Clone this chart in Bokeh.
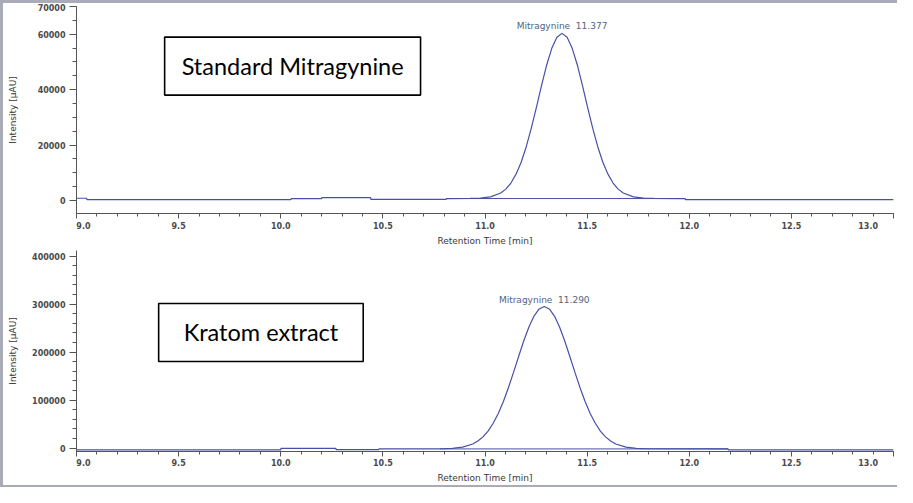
from bokeh.plotting import figure
from bokeh.models import FixedTicker, PrintfTickFormatter, Label, Range1d
from bokeh.layouts import column
from bokeh.embed import file_html
from bokeh.resources import INLINE

# ---------------- data ----------------
std_time = [9.00, 9.05, 9.051, 10.05, 10.051, 10.20, 10.201, 10.44, 10.441, 10.81, 10.811,
            10.927, 10.977, 11.027, 11.077, 11.102, 11.127, 11.152, 11.177, 11.202, 11.227,
            11.252, 11.277, 11.302, 11.327, 11.352, 11.377, 11.402, 11.427, 11.452, 11.477,
            11.502, 11.527, 11.552, 11.577, 11.602, 11.627, 11.652, 11.677, 11.727, 11.777,
            11.827, 11.98, 11.981, 13.00]
std_intensity = [800, 800, 300, 300, 700, 700, 1000, 1000, 400, 400, 700,
                 730, 840, 1300, 2700, 4100, 6300, 9500, 13800, 19400, 26200,
                 33700, 41500, 48900, 54900, 58900, 60300, 58900, 54900, 48900, 41500,
                 33700, 26200, 19400, 13800, 9500, 6300, 4100, 2700, 1300, 840,
                 730, 700, 300, 300]
std_baseline_time = [10.81, 11.98]
std_baseline_intensity = [700, 700]

kra_time = [9.00, 10.00, 10.001, 10.27, 10.271, 10.48, 10.481, 10.78, 10.79, 10.84, 10.89,
            10.94, 10.965, 10.99, 11.015, 11.04, 11.065, 11.09, 11.115, 11.14, 11.165,
            11.19, 11.215, 11.24, 11.265, 11.29, 11.315, 11.34, 11.365, 11.39, 11.415,
            11.44, 11.465, 11.49, 11.515, 11.54, 11.565, 11.59, 11.615, 11.64, 11.69,
            11.74, 11.79, 12.19, 12.191, 13.00]
kra_intensity = [-3500, -3500, -500, -500, -3000, -3000, -1500, -1500, -1200, -400, 2200,
                 8800, 14800, 23600, 35700, 51900, 72400, 97400, 126500, 158400, 191600,
                 223800, 252600, 275300, 290000, 295000, 290000, 275300, 252600, 223800, 191600,
                 158400, 126500, 97400, 72400, 51900, 35700, 23600, 14800, 8800, 2200,
                 -400, -1200, -1500, -3500, -3500]
kra_baseline_time = [10.78, 12.19]
kra_baseline_intensity = [-1500, -1500]

x_ticks = [9.0, 9.5, 10.0, 10.5, 11.0, 11.5, 12.0, 12.5, 13.0]
x_minor_ticks = [round(9.0 + 0.1 * i, 1) for i in range(41)]
std_y_ticks = [0, 20000, 40000, 60000, 70000]
std_y_minor = [5000 * i for i in range(15)]
kra_y_ticks = [0, 100000, 200000, 300000, 400000]
kra_y_minor = [20000 * i for i in range(21)]

peak_name = "Mitragynine"
std_rt = 11.377
kra_rt = 11.290
std_sample = "Standard Mitragynine"
kra_sample = "Kratom extract"
x_title = "Retention Time [min]"
y_title = "Intensity [µAU]"

# ---------------- styling ----------------
TRACE = "#4650a8"
AXIS = "#555555"
TICK_TXT = "#4a4a4a"
PEAK_TXT = "#53637e"
FONT = "DejaVu Sans"
NB = "\u00a0"


def panel(time, inten, bt, bi, yticks, yminor, ystart, yend, rt, sample, box_xy, box_pad,
          height, mb_top, mb_bottom, ylab_standoff, xlab_standoff):
    p = figure(width=894, height=height, output_backend="svg", toolbar_location=None,
               x_range=Range1d(9.0, 13.0), y_range=Range1d(ystart, yend),
               min_border_left=73, min_border_right=4, min_border_top=mb_top,
               min_border_bottom=mb_bottom)
    p.outline_line_color = None
    p.grid.visible = False
    p.background_fill_color = "white"
    p.border_fill_color = "white"

    p.line(time, inten, line_color=TRACE, line_width=1.2)
    p.line(bt, bi, line_color=TRACE, line_width=1.0)

    xa = p.xaxis[0]
    xa.ticker = FixedTicker(ticks=x_ticks, minor_ticks=x_minor_ticks)
    xa.formatter = PrintfTickFormatter(format="%.1f")
    # end labels kept inside the frame (left / right aligned as in the reference)
    xa.major_label_overrides = {x_ticks[0]: NB * 5 + "%.1f" % x_ticks[0],
                                x_ticks[-1]: "%.1f" % x_ticks[-1] + NB * 7}
    xa.axis_label = x_title
    xa.axis_label_text_font = FONT
    xa.axis_label_text_font_size = "9px"
    xa.axis_label_text_font_style = "normal"
    xa.axis_label_text_color = "#3a3a3a"
    xa.axis_label_standoff = 2
    xa.major_label_standoff = xlab_standoff
    xa.major_tick_out = 5
    xa.major_tick_in = 0
    xa.minor_tick_out = 3
    xa.minor_tick_in = 0

    ya = p.yaxis[0]
    ya.ticker = FixedTicker(ticks=yticks, minor_ticks=yminor)
    ya.formatter = PrintfTickFormatter(format="%d")
    ya.axis_label = y_title
    ya.axis_label_text_font = FONT
    ya.axis_label_text_font_size = "9px"
    ya.axis_label_text_font_style = "normal"
    ya.axis_label_text_color = "#3a3a3a"
    ya.axis_label_standoff = ylab_standoff
    ya.major_label_standoff = 4
    ya.major_tick_out = 7
    ya.major_tick_in = 0
    ya.minor_tick_out = 4
    ya.minor_tick_in = 0

    for ax in (xa, ya):
        ax.axis_line_color = AXIS
        ax.major_tick_line_color = AXIS
        ax.minor_tick_line_color = AXIS
        ax.major_label_text_font = FONT
        ax.major_label_text_font_size = "8px"
        ax.major_label_text_font_style = "bold"
        ax.major_label_text_color = TICK_TXT

    # peak label
    top = max(inten)
    p.add_layout(Label(x=rt, y=top, y_offset=2,
                       text="%s%s%s%.3f" % (peak_name, NB, NB, rt),
                       text_align="center", text_baseline="bottom", text_font=FONT,
                       text_font_size="9px", text_color=PEAK_TXT))

    # sample caption in a box
    p.add_layout(Label(x=box_xy[0], y=box_xy[1], text=sample, text_align="center",
                       text_baseline="middle", text_font="Lato", text_font_size="23.5px",
                       text_color="black", border_line_color="black", border_line_width=1.6,
                       background_fill_color="white",
                       padding=dict(left=box_pad[0], right=box_pad[0],
                                    top=box_pad[1], bottom=box_pad[1])))
    return p


p1 = panel(std_time, std_intensity, std_baseline_time, std_baseline_intensity,
           std_y_ticks, std_y_minor, -4700, 70000, std_rt, std_sample,
           (10.058, 48500), (17, 15), 245, 3, 32, 17, 3)
p2 = panel(kra_time, kra_intensity, kra_baseline_time, kra_baseline_intensity,
           kra_y_ticks, kra_y_minor, -6900, 411800, kra_rt, kra_sample,
           (9.903, 241000), (25, 15), 237, 2, 30, 11, 2)

page = column(p1, p2, styles={"border-left": "3px solid #a9abb6",
                              "border-top": "3px solid #a9abb6",
                              "border-bottom": "2px solid #a9abb6"})

open("out.html", "w").write(file_html(page, INLINE))
